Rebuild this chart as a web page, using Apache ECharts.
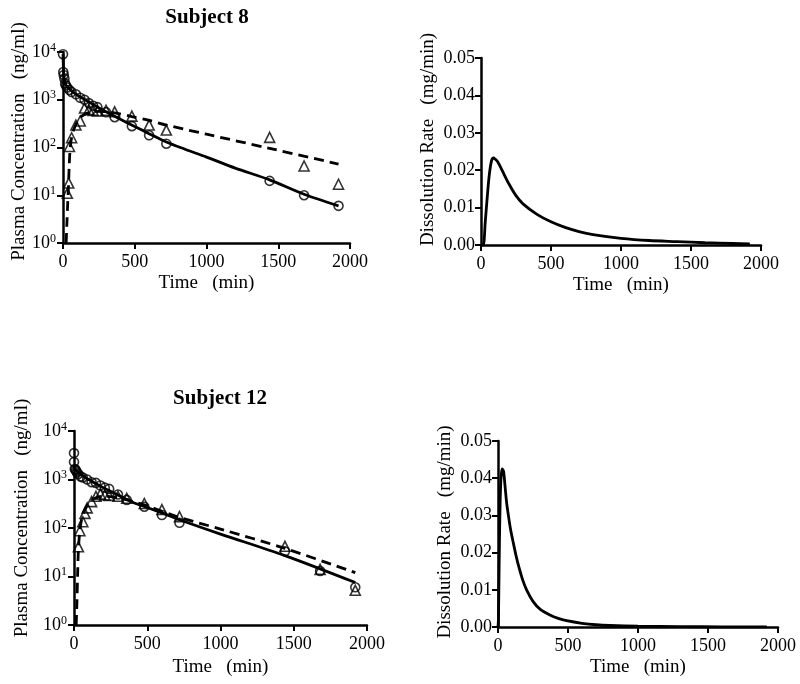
<!DOCTYPE html>
<html>
<head>
<meta charset="utf-8">
<script src="https://cdn.jsdelivr.net/npm/echarts@6/dist/echarts.min.js"></script>
<style>
html,body{margin:0;padding:0;background:#fff;}
#chart{width:800px;height:684px;}
</style>
</head>
<body>
<div id="chart"></div>
<script>
// ---------------- DATA ----------------
var titles = ['Subject 8', 'Subject 12'];
var xTicks = [0, 500, 1000, 1500, 2000];

// Subject 8 - observed
var s8ParentT = [0, 2, 5, 10, 15, 20, 30, 45, 60, 90, 120, 150, 180, 210, 240, 300, 360, 480, 600, 720, 1440, 1680, 1920];
var s8ParentC = [9000, 3800, 3300, 2800, 2200, 2000, 1800, 1600, 1450, 1300, 1100, 1000, 850, 750, 700, 550, 430, 280, 180, 120, 20, 10, 6];
var s8MetT = [30, 40, 45, 60, 90, 120, 150, 180, 210, 240, 300, 360, 480, 600, 720, 1440, 1680, 1920];
var s8MetC = [11, 18, 105, 160, 295, 360, 670, 620, 600, 580, 600, 560, 455, 295, 232, 163, 41, 17];
// Subject 8 - fitted
var s8ParentFitT = [0, 3, 6, 10, 20, 40, 60, 100, 150, 200, 250, 300, 400, 500, 600, 720, 850, 1000, 1200, 1440, 1680, 1920];
var s8ParentFitC = [9000, 4500, 3200, 2600, 2050, 1750, 1530, 1250, 1020, 830, 680, 560, 390, 275, 195, 130, 92, 63, 37, 21, 10.5, 6];
var s8MetFitT = [22, 27, 33, 38, 43, 48, 55, 65, 80, 100, 130, 160, 200, 250, 300, 360, 480, 600, 720, 1000, 1440, 1920];
var s8MetFitC = [1, 2.5, 7, 15, 40, 80, 130, 190, 260, 350, 450, 510, 555, 570, 560, 530, 445, 370, 295, 190, 96, 45];

// Subject 12 - observed
var s12ParentT = [0, 0, 5, 10, 15, 20, 30, 45, 60, 90, 120, 150, 180, 210, 240, 300, 360, 480, 600, 720, 1440, 1680, 1920];
var s12ParentC = [3500, 2300, 1650, 1600, 1500, 1400, 1300, 1150, 1100, 1000, 880, 850, 750, 680, 640, 490, 380, 275, 185, 128, 33, 13, 6];
var s12MetT = [30, 40, 60, 75, 90, 120, 150, 180, 210, 240, 300, 360, 480, 600, 720, 1440, 1680, 1920];
var s12MetC = [41, 88, 135, 200, 260, 350, 450, 500, 480, 470, 450, 410, 320, 240, 172, 42, 14, 5.2];
// Subject 12 - fitted
var s12ParentFitT = [0, 10, 20, 50, 100, 150, 200, 250, 300, 400, 500, 600, 720, 1000, 1440, 1920];
var s12ParentFitC = [1800, 1600, 1500, 1250, 1000, 820, 680, 570, 480, 340, 265, 205, 148, 75, 27, 7.5];
var s12MetFitT = [15, 20, 25, 30, 40, 50, 60, 90, 120, 150, 200, 250, 300, 400, 500, 600, 720, 1000, 1440, 1920];
var s12MetFitC = [1, 3, 12, 35, 90, 140, 185, 290, 370, 420, 450, 445, 420, 355, 285, 222, 165, 95, 38, 12];

// Dissolution rate (mg/min)
var s8DissT = [0, 16, 30, 45, 60, 75, 88, 100, 120, 150, 200, 250, 300, 400, 500, 600, 700, 800, 1000, 1200, 1400, 1600, 1800, 1920];
var s8DissR = [0, 0, 0.006, 0.013, 0.019, 0.0225, 0.0233, 0.023, 0.0222, 0.0200, 0.0163, 0.0132, 0.0110, 0.0082, 0.0062, 0.0047, 0.0036, 0.0028, 0.0018, 0.0012, 0.0009, 0.0006, 0.0004, 0.0003];
var s12DissT = [0, 3, 6, 10, 15, 20, 25, 31, 35, 40, 50, 62, 75, 90, 110, 130, 150, 175, 205, 250, 300, 371, 430, 490, 600, 700, 800, 1000, 1300, 1600, 1920];
var s12DissR = [0, 0.002, 0.010, 0.022, 0.033, 0.039, 0.0415, 0.0425, 0.0424, 0.0418, 0.038, 0.0333, 0.0298, 0.0262, 0.0225, 0.0190, 0.0160, 0.0128, 0.0099, 0.0069, 0.0048, 0.0032, 0.0023, 0.0017, 0.0010, 0.0006, 0.0004, 0.0002, 0.0001, 0.00005, 0.00002];

// ---------------- CHART ----------------
var FONT = 'Liberation Serif';
function pairs(t, v) { return t.map(function (x, i) { return [x, v[i]]; }); }

var grids = [
  { left: 63, top: 52, width: 287, height: 191 },
  { left: 481, top: 58, width: 280, height: 187 },
  { left: 74, top: 431, width: 293, height: 194 },
  { left: 498, top: 441, width: 280, height: 186 }
];

var axisLine = { show: true, onZero: false, lineStyle: { color: '#000', width: 2.5 } };
var axisTick = { show: true, inside: false, length: 6, lineStyle: { color: '#000', width: 2 } };

function xAxis(idx, gap) {
  return {
    gridIndex: idx, type: 'value', min: xTicks[0], max: xTicks[xTicks.length - 1], interval: xTicks[1] - xTicks[0],
    name: 'Time   (min)', nameLocation: 'middle', nameGap: gap,
    nameTextStyle: { fontFamily: FONT, fontSize: 19, color: '#000' },
    axisLine: axisLine, axisTick: axisTick, splitLine: { show: false },
    axisLabel: { fontFamily: FONT, fontSize: 18, color: '#000', margin: 10, formatter: function (v) { return String(v); } }
  };
}
function logY(idx, gap, shift) {
  return {
    gridIndex: idx, type: 'log', logBase: 10, min: 1, max: 10000,
    name: 'Plasma Concentration   (ng/ml)', nameLocation: 'middle', nameGap: gap, nameRotate: 90,
    nameTextStyle: { fontFamily: FONT, fontSize: 19, color: '#000', padding: [0, 0, 0, shift] },
    axisLine: axisLine, axisTick: axisTick, splitLine: { show: false }, minorTick: { show: false },
    axisLabel: {
      fontFamily: FONT, color: '#000', margin: 7,
      formatter: function (v) { return '{b|10}{s|' + Math.round(Math.log10(v)) + '}'; },
      rich: {
        b: { fontFamily: FONT, fontSize: 18, color: '#000' },
        s: { fontFamily: FONT, fontSize: 12, color: '#000', padding: [0, 0, 9, 0] }
      }
    }
  };
}
function linY(idx, gap, shift) {
  return {
    gridIndex: idx, type: 'value', min: 0, max: 0.05, interval: 0.01,
    name: 'Dissolution Rate   (mg/min)', nameLocation: 'middle', nameGap: gap, nameRotate: 90,
    nameTextStyle: { fontFamily: FONT, fontSize: 19, color: '#000', padding: [0, 0, 0, shift] },
    axisLine: axisLine, axisTick: axisTick, splitLine: { show: false },
    axisLabel: { fontFamily: FONT, fontSize: 18, color: '#000', margin: 6, formatter: function (v) { return v.toFixed(2); } }
  };
}

function lineSeries(idx, t, v, dashed) {
  return {
    type: 'line', xAxisIndex: idx, yAxisIndex: idx, data: pairs(t, v), symbol: 'none', smooth: 0.3,
    lineStyle: { color: '#000', width: 2.8, type: dashed ? [10, 6] : 'solid' }, z: 2, animation: false
  };
}
function markerSeries(idx, t, v, shape, size) {
  return {
    type: 'scatter', xAxisIndex: idx, yAxisIndex: idx, data: pairs(t, v), symbol: shape, symbolSize: size,
    itemStyle: { color: 'rgba(255,255,255,0)', borderColor: '#000', borderWidth: 1.6 }, z: 3, animation: false
  };
}

var option = {
  backgroundColor: '#fff',
  animation: false,
  title: [
    { text: titles[0], left: 207, top: 7, textAlign: 'center', padding: 0,
      textStyle: { fontFamily: FONT, fontSize: 21, fontWeight: 'bold', color: '#000' } },
    { text: titles[1], left: 220, top: 388, textAlign: 'center', padding: 0,
      textStyle: { fontFamily: FONT, fontSize: 21, fontWeight: 'bold', color: '#000' } }
  ],
  grid: grids,
  xAxis: [xAxis(0, 31), xAxis(1, 31), xAxis(2, 33), xAxis(3, 31)],
  yAxis: [logY(0, 31, 12), linY(1, 43, 24), logY(2, 42, 20), linY(3, 43, 4)],
  series: [
    lineSeries(0, s8ParentFitT, s8ParentFitC, false),
    lineSeries(0, s8MetFitT, s8MetFitC, true),
    markerSeries(0, s8ParentT, s8ParentC, 'circle', 9),
    markerSeries(0, s8MetT, s8MetC, 'triangle', 10),
    lineSeries(1, s8DissT, s8DissR, false),
    lineSeries(2, s12ParentFitT, s12ParentFitC, false),
    lineSeries(2, s12MetFitT, s12MetFitC, true),
    markerSeries(2, s12ParentT, s12ParentC, 'circle', 9),
    markerSeries(2, s12MetT, s12MetC, 'triangle', 10),
    lineSeries(3, s12DissT, s12DissR, false)
  ]
};

var chart = echarts.init(document.getElementById('chart'), null, { renderer: 'canvas' });
chart.setOption(option);
</script>
</body>
</html>
